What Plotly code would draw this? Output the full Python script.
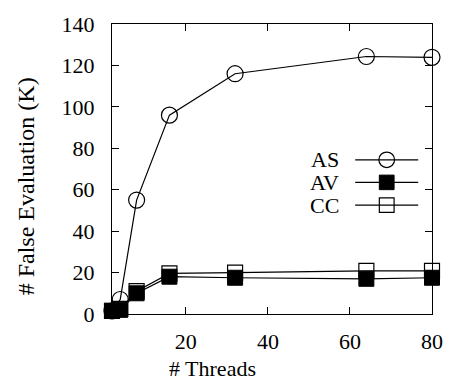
import plotly.graph_objects as go

threads = [2, 4, 8, 16, 32, 64, 80]
as_vals = [1.5, 7.0, 55.0, 96.0, 116.0, 124.3, 123.9]
av_vals = [1.5, 2.0, 10.0, 18.0, 17.5, 17.0, 17.5]
cc_vals = [1.5, 2.5, 11.0, 19.6, 20.0, 20.8, 20.8]
series_names = ["AS", "AV", "CC"]
x_ticks = [20, 40, 60, 80]
y_ticks = [0, 20, 40, 60, 80, 100, 120, 140]

FONT = "Liberation Serif"
fig = go.Figure()

fig.add_trace(go.Scatter(x=threads, y=as_vals, mode="lines+markers", name="AS",
                         line=dict(color="black", width=1.2),
                         marker=dict(symbol="circle-open", size=16, color="black",
                                     line=dict(width=1.2, color="black")),
                         cliponaxis=False))
fig.add_trace(go.Scatter(x=threads, y=cc_vals, mode="lines+markers", name="CC",
                         line=dict(color="black", width=1.2),
                         marker=dict(symbol="square-open", size=15, color="black",
                                     line=dict(width=1.2, color="black")),
                         cliponaxis=False))
fig.add_trace(go.Scatter(x=threads, y=av_vals, mode="lines+markers", name="AV",
                         line=dict(color="black", width=1.2),
                         marker=dict(symbol="square", size=15, color="black",
                                     line=dict(width=1, color="black")),
                         cliponaxis=False))

W, H = 455, 386
L, R, T, B = 112, 18, 15, 72
pw, ph = W - L - R, H - T - B

def px(x):
    return (x - L) / pw

def py(y):
    return 1 - (y - T) / ph

# manual gnuplot-style legend (text left, sample right)
leg_rows = [155, 178.3, 201.7]
shapes = []
annotations = []
for i, name in enumerate(series_names):
    yy = py(leg_rows[i])
    annotations.append(dict(x=px(345), y=yy, xref="paper", yref="paper", text=name,
                            showarrow=False, xanchor="right", yanchor="middle",
                            font=dict(family=FONT, size=22, color="black")))
    shapes.append(dict(type="line", xref="paper", yref="paper", x0=px(359), x1=px(423),
                       y0=yy, y1=yy, line=dict(color="black", width=1.2)))
    cx, cy = 391, leg_rows[i]
    if name == "AS":
        shapes.append(dict(type="circle", xref="paper", yref="paper",
                           x0=px(cx - 8), x1=px(cx + 8), y0=py(cy - 8), y1=py(cy + 8),
                           line=dict(color="black", width=1.2), fillcolor="rgba(0,0,0,0)"))
    elif name == "AV":
        shapes.append(dict(type="rect", xref="paper", yref="paper",
                           x0=px(cx - 7.5), x1=px(cx + 7.5), y0=py(cy - 7.5), y1=py(cy + 7.5),
                           line=dict(color="black", width=1), fillcolor="black"))
    else:
        shapes.append(dict(type="rect", xref="paper", yref="paper",
                           x0=px(cx - 7.5), x1=px(cx + 7.5), y0=py(cy - 7.5), y1=py(cy + 7.5),
                           line=dict(color="black", width=1.2), fillcolor="rgba(0,0,0,0)"))

annotations.append(dict(x=px(214), y=py(370), xref="paper", yref="paper", text="# Threads",
                        showarrow=False, xanchor="center", yanchor="middle",
                        font=dict(family=FONT, size=22, color="black")))
annotations.append(dict(x=px(25), y=py(182), xref="paper", yref="paper",
                        text="# False Evaluation (K)", textangle=-90,
                        showarrow=False, xanchor="center", yanchor="middle",
                        font=dict(family=FONT, size=24, color="black")))

fig.update_layout(
    width=W, height=H,
    margin=dict(l=L, r=R, t=T, b=B),
    paper_bgcolor="white", plot_bgcolor="white",
    showlegend=False,
    shapes=shapes, annotations=annotations,
    font=dict(family=FONT, size=22, color="black"),
)
fig.update_xaxes(range=[2, 80], tickvals=x_ticks, ticks="inside", ticklen=7, tickwidth=1.2,
                 tickcolor="black", showline=True, linecolor="black", linewidth=1.3,
                 mirror="allticks", showgrid=False, zeroline=False, ticklabelstandoff=7,
                 tickfont=dict(family=FONT, size=22, color="black"))
fig.update_yaxes(range=[0, 140], tickvals=y_ticks, ticks="inside", ticklen=7, tickwidth=1.2,
                 tickcolor="black", showline=True, linecolor="black", linewidth=1.3,
                 mirror="allticks", showgrid=False, zeroline=False, ticklabelstandoff=12,
                 tickfont=dict(family=FONT, size=22, color="black"))

fig.write_html("out.html", config={"displayModeBar": False},
               post_script="document.body.style.margin='0';document.body.style.overflow='hidden';")
